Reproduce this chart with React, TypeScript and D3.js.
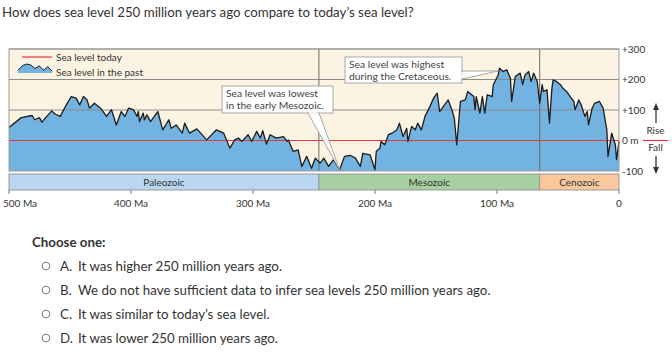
import React from "react";
import * as d3 from "d3";

// sea level curve (age in Ma, level in m vs today)
const ages = [
  500, 490, 481, 479, 475, 473, 470, 465, 462, 458, 453, 449, 445, 442, 439, 436, 434, 430, 425, 420,
  416, 412, 408, 405, 402, 398, 395, 394, 393, 390, 389, 387, 384, 380, 378, 374, 369, 367, 363, 358,
  356, 352, 346, 338, 330, 324, 319, 315, 312, 309, 304, 301, 297, 294, 292, 289, 286, 281, 275, 272,
  271, 267, 263, 260, 256, 252, 249, 245, 242, 238, 234, 229, 225, 220, 216, 212, 210, 204, 200, 199,
  196, 195, 192, 189, 186, 182, 180, 177, 174, 173, 170, 167, 165, 162, 159, 155, 152, 149, 147, 143,
  140, 137, 135, 133, 130, 126, 124, 119, 118, 117, 114, 112, 110, 108, 104, 103, 99, 98, 95, 92,
  89, 88, 85, 81, 79, 77, 74, 72, 70, 67, 65, 63, 62, 59, 57, 55, 54, 51, 48, 46,
  43, 40, 37, 36, 33, 31, 28, 26, 25, 22, 20, 16, 13, 10, 9, 6, 3, 2, 0,
];
const levels = [
  43, 75, 82, 68, 75, 60, 75, 97, 86, 79, 117, 144, 139, 117, 144, 133, 106, 122, 106, 79,
  101, 51, 95, 79, 106, 101, 79, 95, 62, 90, 68, 84, 62, 84, 95, 35, 68, 40, 51, 24,
  57, 24, 38, 2, 35, 24, -25, 2, 8, -3, 19, -3, 30, 8, 32, -12, 19, 8, 13, -3,
  2, -36, -31, -85, -52, -91, -58, -74, -58, -85, -63, -96, -52, -49, -58, -85, -42, -47, -96, -36,
  -25, -3, -14, 19, 24, 35, 57, 13, 40, -3, 46, 35, 57, 35, 79, 111, 139, 155, 95, 117,
  133, 101, 73, -14, 128, 133, 161, 144, 101, 144, 90, 144, 90, 150, 144, 183, 215, 237, 226, 232,
  204, 128, 210, 221, 183, 215, 226, 193, 221, 193, 122, 183, 161, 166, 57, 171, 199, 193, 183, 171,
  161, 144, 128, 101, 133, 117, 79, 95, 51, 106, 122, 128, 106, 35, -52, 24, -14, -63, -3,
];

const eraNames = ["Paleozoic", "Mesozoic", "Cenozoic"];
const eraStarts = [500, 246, 65];
const eraEnds = [246, 65, 0];
const eraColors = ["#bad6f1", "#a6cf9f", "#fbc79d"];

const xTicks = [500, 400, 300, 200, 100, 0];
const xTickLabels = ["500 Ma", "400 Ma", "300 Ma", "200 Ma", "100 Ma", "0"];
const yTicks = [300, 200, 100, 0, -100];
const yTickLabels = ["+300", "+200", "+100", "0 m", "-100"];

const legendWave = [0.3, 0.8, 1, 0.9, 0.5, 0.8, 0.3, 0.7, 0.2];

const question = "How does sea level 250 million years ago compare to today’s sea level?";
const letters = ["A.", "B.", "C.", "D."];
const choices = [
  "It was higher 250 million years ago.",
  "We do not have sufficient data to infer sea levels 250 million years ago.",
  "It was similar to today’s sea level.",
  "It was lower 250 million years ago.",
];

const chartFont = "Lato, 'Open Sans', sans-serif";

export default function App() {
  const left = 9;
  const right = 619;
  const top = 49;
  const bottom = 171;

  const x = d3.scaleLinear().domain([500, 0]).range([left, right]);
  const y = d3.scaleLinear().domain([-100, 300]).range([bottom, top]);

  const data = ages.map((a, i) => ({ a, v: levels[i] }));
  const area = d3
    .area<{ a: number; v: number }>()
    .x((d) => x(d.a))
    .y0(bottom)
    .y1((d) => y(d.v));
  const line = d3
    .line<{ a: number; v: number }>()
    .x((d) => x(d.a))
    .y((d) => y(d.v));

  // legend icon
  const lx = d3.scaleLinear().domain([0, legendWave.length - 1]).range([18, 52]);
  const ly = d3.scaleLinear().domain([0, 1]).range([73, 64]);
  const iconArea = d3
    .area<number>()
    .x((_, i) => lx(i))
    .y0(73)
    .y1((d) => ly(d));
  const iconLine = d3
    .line<number>()
    .x((_, i) => lx(i))
    .y((d) => ly(d));

  const barTop = 174;
  const barBottom = 190;

  return (
    <svg
      width={672}
      height={360}
      style={{ position: "absolute", left: 0, top: 0, background: "#fff" }}
    >
      <text x={2} y={17} fontFamily="Lato, sans-serif" fontSize={13.3} fill="#333">
        {question}
      </text>

      {/* plot background */}
      <rect x={left} y={top} width={right - left} height={bottom - top} fill="#fdf3e3" />
      <path d={area(data) || ""} fill="#72b3e2" />

      {/* grid */}
      {yTicks
        .filter((t) => t !== 0 && t !== -100)
        .map((t) => (
          <line key={t} x1={left} x2={right} y1={y(t)} y2={y(t)} stroke="#8c8c8c" strokeWidth={1} />
        ))}
      {eraStarts.slice(1).map((s) => (
        <line key={s} x1={x(s)} x2={x(s)} y1={top} y2={bottom} stroke="#6b6b6b" strokeWidth={1} />
      ))}
      <line x1={left} x2={right} y1={y(0)} y2={y(0)} stroke="#e0393e" strokeWidth={1.2} />
      <path d={line(data) || ""} fill="none" stroke="#1b1b1b" strokeWidth={1.3} strokeLinejoin="round" />
      <rect x={left} y={top} width={right - left} height={bottom - top} fill="none" stroke="#9a9a9a" />

      {/* legend */}
      <line x1={22} x2={52} y1={57} y2={57} stroke="#e0393e" strokeWidth={1.2} />
      <path d={iconArea(legendWave) || ""} fill="#72b3e2" />
      <path d={iconLine(legendWave) || ""} fill="none" stroke="#1b1b1b" strokeWidth={1} />
      <text x={56} y={60.5} fontFamily={chartFont} fontSize={10} fill="#333">
        Sea level today
      </text>
      <text x={56} y={76} fontFamily={chartFont} fontSize={10} fill="#333">
        Sea level in the past
      </text>

      {/* callouts */}
      <g fontFamily={chartFont} fontSize={10.3} fill="#444">
        <rect x={222} y={86} width={111} height={27} fill="#fff" stroke="#a8a8a8" />
        <polygon points={`308,113 319,113 ${x(229)},${y(-96)}`} fill="#fff" stroke="#a8a8a8" />
        <line x1={309} x2={318} y1={113} y2={113} stroke="#fff" strokeWidth={1.5} />
        <text x={226} y={97}>Sea level was lowest</text>
        <text x={226} y={108.5}>in the early Mesozoic.</text>

        <rect x={345} y={57} width={117} height={26} fill="#fff" stroke="#a8a8a8" />
        <polygon points={`462,71 462,79 ${x(99)},${y(228)}`} fill="#fff" stroke="#a8a8a8" />
        <line x1={462} x2={462} y1={72} y2={78} stroke="#fff" strokeWidth={1.5} />
        <text x={349} y={68}>Sea level was highest</text>
        <text x={349} y={79.5}>during the Cretaceous.</text>
      </g>

      {/* y labels on the right */}
      <g fontFamily={chartFont} fontSize={10} fill="#333">
        {yTicks.map((t, i) => (
          <text key={t} x={622} y={y(t) + 3.5}>
            {yTickLabels[i]}
          </text>
        ))}
        <line x1={643} x2={668} y1={y(0)} y2={y(0)} stroke="#e0393e" strokeWidth={1.2} />
        <text x={655.5} y={134} textAnchor="middle">Rise</text>
        <text x={655.5} y={151} textAnchor="middle">Fall</text>
      </g>
      <line x1={656} x2={656} y1={123} y2={108} stroke="#333" strokeWidth={1.3} />
      <polygon points="653,110 659,110 656,103" fill="#333" />
      <line x1={656} x2={656} y1={156} y2={169} stroke="#333" strokeWidth={1.3} />
      <polygon points="653,167 659,167 656,174" fill="#333" />

      {/* era bar */}
      {eraNames.map((n, i) => (
        <g key={n}>
          <rect
            x={x(eraStarts[i])}
            y={barTop}
            width={x(eraEnds[i]) - x(eraStarts[i])}
            height={barBottom - barTop}
            fill={eraColors[i]}
            stroke="#9a9a9a"
          />
          <text
            x={(x(eraStarts[i]) + x(eraEnds[i])) / 2}
            y={barTop + 11.5}
            textAnchor="middle"
            fontFamily={chartFont}
            fontSize={10}
            fill="#333"
          >
            {n}
          </text>
        </g>
      ))}

      {/* x axis */}
      {xTicks.map((t, i) => (
        <g key={t}>
          <line x1={x(t)} x2={x(t)} y1={barBottom} y2={barBottom + 4} stroke="#777" />
          <text
            x={i === 0 ? x(t) - 6 : x(t)}
            y={206.5}
            textAnchor={i === 0 ? "start" : "middle"}
            fontFamily={chartFont}
            fontSize={10}
            fill="#333"
          >
            {xTickLabels[i]}
          </text>
        </g>
      ))}

      {/* question */}
      <text x={32} y={247} fontFamily="Lato, sans-serif" fontSize={13.3} fontWeight={700} fill="#333">
        Choose one:
      </text>
      {choices.map((c, i) => {
        const cy = 266 + i * 24;
        return (
          <g key={c} fontFamily="Lato, sans-serif" fontSize={13.3} fill="#333">
            <circle cx={46} cy={cy} r={3.8} fill="#fff" stroke="#777" />
            <text x={60} y={cy + 4.6}>
              {letters[i]}
            </text>
            <text x={78} y={cy + 4.6}>
              {c}
            </text>
          </g>
        );
      })}
    </svg>
  );
}
